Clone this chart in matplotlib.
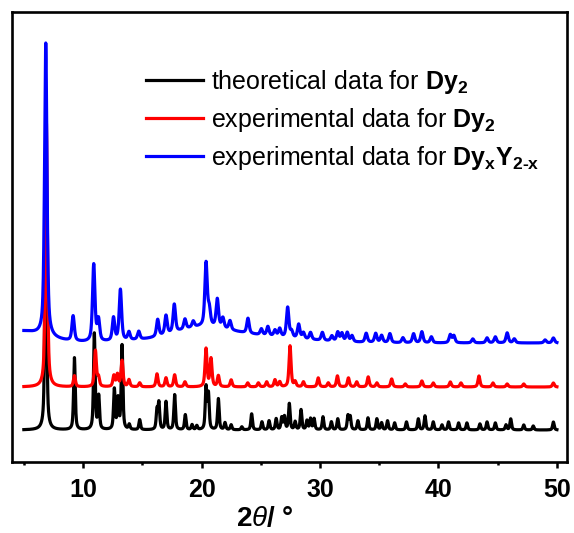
import numpy as np
import matplotlib.pyplot as plt

plt.rcParams['font.family'] = 'Liberation Sans'
plt.rcParams['mathtext.fontset'] = 'custom'
plt.rcParams['mathtext.rm'] = 'Liberation Sans:bold'
plt.rcParams['mathtext.it'] = 'Liberation Sans:italic'
plt.rcParams['mathtext.bf'] = 'Liberation Sans:bold'

# peak lists: 2theta (deg) and height (arb. units)
theo_pos = [6.85, 9.27, 10.95, 11.32, 12.64, 12.95, 13.29, 13.9, 14.78, 16.24,
            16.4, 17.0, 17.73, 18.63, 19.2, 19.6, 20.38, 20.58, 21.42, 21.98,
            22.5, 23.4, 24.23, 25.1, 25.7, 26.3, 26.77, 27.0, 27.41, 27.9,
            28.4, 28.9, 29.2, 29.5, 30.25, 30.96, 31.5, 32.36, 32.55, 33.2,
            34.05, 34.8, 35.2, 35.7, 36.3, 37.3, 38.3, 38.86, 39.56, 40.3,
            40.85, 41.7, 42.4, 43.5, 44.1, 44.8, 45.7, 46.1, 47.2, 48.0,
            49.7]
theo_int = [300, 72, 96, 33, 40, 30, 84, 5, 10, 19,
            26, 28, 35, 15, 5, 4, 42, 35, 31, 7,
            5, 3, 16, 8, 9, 11, 12, 13, 26, 8,
            20, 9, 11, 11, 13, 8, 11, 14, 13, 9,
            12, 11, 7, 9, 7, 8, 11, 14, 8, 5,
            8, 7, 7, 6, 8, 7, 5, 11, 5, 4,
            8]

dy2_pos = [6.9, 9.27, 11.04, 11.3, 12.6, 12.9, 13.29, 13.87, 14.78, 16.24,
           17.0, 17.73, 18.6, 20.38, 20.8, 21.42, 22.5, 23.9, 24.8, 25.5,
           26.2, 26.6, 27.47, 27.9, 28.6, 29.85, 30.7, 31.47, 32.4, 33.1,
           34.07, 34.8, 36.05, 37.2, 38.6, 39.56, 41.0, 41.9, 43.42, 44.6,
           45.8, 47.2, 49.7]
dy2_int = [265, 11, 36, 9, 11, 12, 26, 7, 4, 13,
           9, 12, 5, 38, 28, 11, 7, 4, 4, 5,
           7, 5, 41, 5, 5, 9, 4, 11, 9, 5,
           10, 4, 8, 3, 6, 4, 5, 4, 11, 4,
           3, 3, 4]

dyy_pos = [6.85, 9.16, 10.9, 11.3, 12.57, 13.15, 13.87, 14.7, 16.3, 17.0,
           17.7, 18.6, 19.3, 20.38, 20.65, 21.33, 21.8, 22.4, 23.92, 25.05,
           25.6, 26.2, 26.6, 27.27, 27.6, 28.2, 28.6, 29.2, 30.2, 31.0,
           31.5, 31.85, 32.3, 32.7, 33.9, 34.7, 35.2, 35.9, 37.0, 37.9,
           38.6, 39.4, 41.0, 41.3, 42.9, 44.1, 44.8, 45.8, 46.4, 49.0,
           49.7]
dyy_int = [293, 25, 77, 21, 23, 51, 8, 8, 17, 19,
           28, 10, 6, 63, 16, 28, 10, 9, 15, 6,
           9, 6, 8, 30, 6, 14, 6, 7, 8, 5,
           9, 8, 9, 6, 9, 9, 7, 9, 5, 9,
           11, 6, 8, 7, 4, 5, 6, 10, 4, 3,
           5]
# broad amorphous background of the DyxY2-x sample
hump_pos = [4.5, 20.0, 22.0]
hump_int = [12, 8, 9]
hump_sig = [2.2, 2.0, 5.0]

offsets = {'theo': 32, 'dy2': 75, 'dyy': 119}

x = np.arange(5, 50.01, 0.01)


def pattern(pos, amp, fwhm, eta=0.6):
    y = np.zeros_like(x)
    hw = fwhm / 2
    sig = fwhm / 2.355
    for p, a in zip(pos, amp):
        lor = hw**2 / ((x - p)**2 + hw**2)
        gau = np.exp(-(x - p)**2 / (2 * sig**2))
        y += a * (eta * lor + (1 - eta) * gau)
    return y


y_theo = pattern(theo_pos, theo_int, 0.16) + offsets['theo']
y_dy2 = pattern(dy2_pos, dy2_int, 0.2) + offsets['dy2']
y_dyy = pattern(dyy_pos, dyy_int, 0.24) + offsets['dyy']
for p, a, s in zip(hump_pos, hump_int, hump_sig):
    y_dyy += a * np.exp(-(x - p)**2 / (2 * s**2))

fig = plt.figure(figsize=(5.74, 5.33), dpi=100)
ax = fig.add_axes([0.0209, 0.1332, 0.9669, 0.8443])

lw = 2.3
ax.plot(x, y_theo, color='black', lw=lw, label=r'theoretical data for $\mathbf{Dy_2}$')
ax.plot(x, y_dy2, color='red', lw=lw, label=r'experimental data for $\mathbf{Dy_2}$')
ax.plot(x, y_dyy, color='blue', lw=lw,
        label=r'experimental data for $\mathbf{Dy_xY_{2\text{-}x}}$')

ax.set_xlim(4.0, 50.85)
ax.set_ylim(0, 450)
ax.set_xticks([10, 20, 30, 40, 50])
ax.set_xticks([5, 15, 25, 35, 45], minor=True)
ax.set_yticks([])
ax.tick_params(axis='x', which='major', direction='out', length=4.5, width=1.8,
               labelsize=18, pad=7)
ax.tick_params(axis='x', which='minor', direction='out', length=2.5, width=1.8)
for lab in ax.get_xticklabels():
    lab.set_fontweight('bold')
for sp in ax.spines.values():
    sp.set_linewidth(1.9)

ax.set_xlabel(r'$\mathbf{2}\mathit{\theta}$/ °', fontsize=20, fontweight='bold')
ax.xaxis.set_label_coords(0.455, -0.098)

ax.legend(loc='upper left', bbox_to_anchor=(0.241, 0.875), frameon=False,
          fontsize=18, handlelength=2.3, handletextpad=0.3,
          labelspacing=0.4, borderpad=0, borderaxespad=0)

fig.savefig('out.png', dpi=100)
